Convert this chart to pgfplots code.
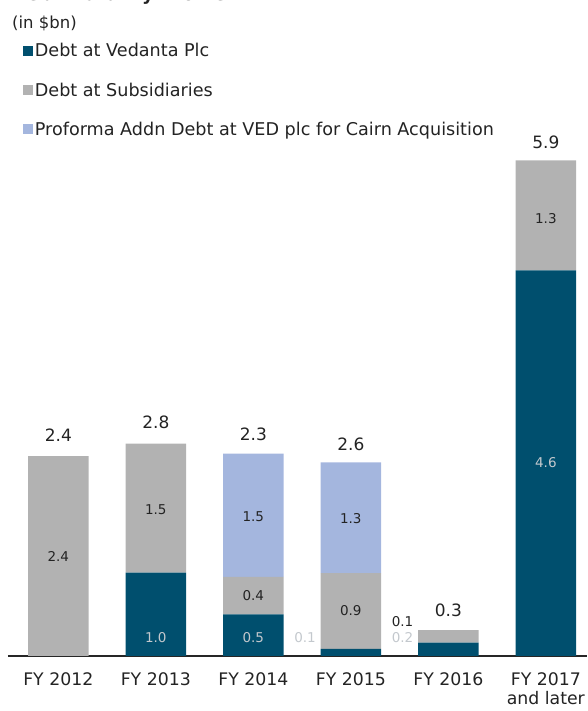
\documentclass[border=0pt]{standalone}
\usepackage{pgfplots}
\pgfplotsset{compat=1.18}
\usepackage{fontspec}
\setmainfont{DejaVu Sans}
\definecolor{vedblue}{RGB}{0,79,110}
\definecolor{subgray}{RGB}{178,178,178}
\definecolor{problue}{RGB}{164,182,222}
\definecolor{lbl}{RGB}{195,200,205}
\definecolor{txt}{RGB}{35,35,35}
\tikzset{tot/.style={font=\fontsize{17}{19}\selectfont, text=txt},
  seg/.style={font=\fontsize{13.5}{15}\selectfont, text=txt},
  segl/.style={font=\fontsize{13.5}{15}\selectfont, text=lbl}}
\begin{document}
\begin{tikzpicture}
\path[use as bounding box] (-8pt,-55pt) rectangle (579pt,656pt);
\node[anchor=base west, font=\bfseries\fontsize{18}{20}\selectfont, text=txt, inner sep=0pt] at (4pt,655pt) {Debt Maturity Profile};
\node[anchor=west, font=\fontsize{16.5}{18}\selectfont, text=txt, inner sep=0pt] at (4pt,633pt) {(in \$bn)};
\begin{axis}[
  at={(0pt,0pt)}, anchor=south west,
  scale only axis, width=579pt, height=656pt,
  xmin=-0.516, xmax=5.422, ymin=0, ymax=7.875,
  ybar stacked, bar width=60.6pt,
  axis y line=none, axis x line*=bottom,
  x axis line style={line width=1.2pt, black!85, -},
  xtick={0,1,2,3,4,5},
  xticklabels={FY 2012, FY 2013, FY 2014, FY 2015, FY 2016, {FY 2017\\and later}},
  major tick length=0pt,
  xticklabel style={align=center, font=\fontsize{17.3}{19.5}\selectfont, text=txt, anchor=north, yshift=-13pt},
  extra x ticks={-0.5,0.5,1.5,2.5,3.5,4.5},
  extra x tick labels={},
  extra x tick style={major tick length=6pt},
  every extra x tick/.style={line width=1.2pt, black!80},
  tick align=outside,
  clip=false,
  legend style={at={(axis description cs:0.0254,0.937)}, anchor=north west, draw=none, fill=none,
    font=\fontsize{17.6}{19}\selectfont, text=txt, row sep=20.3pt, inner sep=0pt, cells={anchor=west}},
  legend cell align=left,
  legend image code/.code={\fill[#1] (0pt,-5pt) rectangle (10pt,5pt);},
]
\addplot+[fill=vedblue, draw=none] coordinates {(0,0) (1,1.0) (2,0.5) (3,0.085) (4,0.16) (5,4.63)};
\addlegendentry{Debt at Vedanta Plc}
\addplot+[fill=subgray, draw=none] coordinates {(0,2.4) (1,1.55) (2,0.45) (3,0.91) (4,0.15) (5,1.32)};
\addlegendentry{Debt at Subsidiaries}
\addplot+[fill=problue, draw=none] coordinates {(0,0) (1,0) (2,1.48) (3,1.33) (4,0) (5,0)};
\addlegendentry{Proforma Addn Debt at VED plc for Cairn Acquisition}
\coordinate (t0) at (axis cs:0,2.65);
\coordinate (t1) at (axis cs:1,2.8);
\coordinate (t2) at (axis cs:2,2.66);
\coordinate (t3) at (axis cs:3,2.54);
\coordinate (t4) at (axis cs:4,0.55);
\coordinate (t5) at (axis cs:5,6.17);
\coordinate (s1) at (axis cs:0,1.19);
\coordinate (s2) at (axis cs:1,1.76);
\coordinate (s3) at (axis cs:2,1.67);
\coordinate (s4) at (axis cs:2,0.72);
\coordinate (s5) at (axis cs:3,1.65);
\coordinate (s6) at (axis cs:3,0.54);
\coordinate (s7) at (axis cs:3.53,0.41);
\coordinate (s8) at (axis cs:5,5.25);
\coordinate (l1) at (axis cs:1,0.22);
\coordinate (l2) at (axis cs:2,0.22);
\coordinate (l3) at (axis cs:2.53,0.22);
\coordinate (l4) at (axis cs:3.53,0.22);
\coordinate (l5) at (axis cs:5,2.32);
\end{axis}
\node[tot] at (t0) {2.4};
\node[tot] at (t1) {2.8};
\node[tot] at (t2) {2.3};
\node[tot] at (t3) {2.6};
\node[tot] at (t4) {0.3};
\node[tot] at (t5) {5.9};
\node[seg] at (s1) {2.4};
\node[seg] at (s2) {1.5};
\node[seg] at (s3) {1.5};
\node[seg] at (s4) {0.4};
\node[seg] at (s5) {1.3};
\node[seg] at (s6) {0.9};
\node[seg] at (s7) {0.1};
\node[seg] at (s8) {1.3};
\node[segl] at (l1) {1.0};
\node[segl] at (l2) {0.5};
\node[segl] at (l3) {0.1};
\node[segl] at (l4) {0.2};
\node[segl] at (l5) {4.6};
\end{tikzpicture}
\end{document}
